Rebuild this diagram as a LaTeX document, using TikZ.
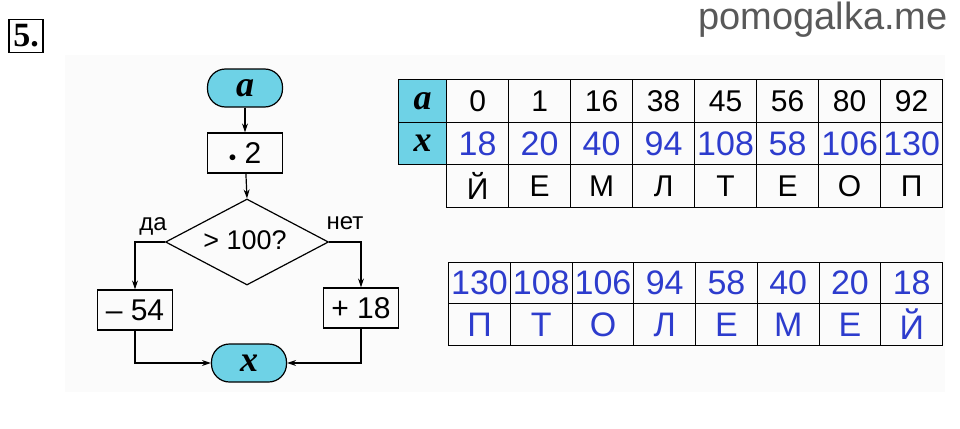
\documentclass[tikz,border=0pt]{standalone}
\usepackage{fontspec}
\setmainfont{Liberation Sans}
\newfontfamily\serifb{Liberation Serif}
\usetikzlibrary{shapes.geometric,arrows.meta}
\definecolor{cy}{RGB}{110,210,230}
\definecolor{bl}{RGB}{45,60,205}
\begin{document}
\begin{tikzpicture}[x=1pt,y=-1pt,
 box/.style={draw,line width=1.2pt,minimum width=75pt,minimum height=40pt,inner sep=0pt,font=\fontsize{30}{32}\selectfont},
 term/.style={draw,line width=1.2pt,fill=cy,rounded corners=18pt,minimum width=75pt,minimum height=38pt,inner sep=0pt,font=\serifb\bfseries\itshape\fontsize{36}{38}\selectfont},
 arr/.style={line width=1.2pt,-{Stealth[length=9pt,width=6pt]}},
 cell/.style={draw,line width=1.2pt,minimum width=62pt,minimum height=42.5pt,inner sep=0pt,anchor=north west,font=\fontsize{30}{32}\selectfont},
 bcell/.style={cell,text=bl,font=\fontsize{34}{36}\selectfont}]
\useasboundingbox (0,0) rectangle (960,428);
\fill[black!1.5] (65,55) rectangle (945,392);
\node[draw,line width=1.5pt,minimum width=34pt,minimum height=33pt,inner sep=0pt,font=\serifb\bfseries\fontsize{34}{36}\selectfont] (n5) at (26,36) {5.};
\node[text=black!65,font=\fontsize{38}{40}\selectfont,anchor=base east,inner sep=0pt] (site) at (948,30) {pomogalka.me};
% flowchart
\node[term] (a) at (245,88) {a};
\node[box] (m2) at (245,153) {\raisebox{2pt}{\scalebox{0.6}{$\bullet$}}\ 2};
\node[draw,line width=1.2pt,diamond,aspect=1.9,minimum width=163pt,minimum height=86pt,inner sep=0pt] (d) at (247,242) {};
\node[font=\fontsize{27}{29}\selectfont] (dt) at (245,240) {> 100?};
\node[box] (b54) at (135,310) {– 54};
\node[box] (b18) at (361,308) {+ 18};
\node[term] (x) at (249,363) {x};
\node[font=\fontsize{24}{26}\selectfont] (da) at (153,226) {да};
\node[font=\fontsize{24}{26}\selectfont] (net) at (345,223) {нет};
\draw[arr] (a) -- (m2);
\draw[arr] (m2) -- (d.north);
\draw[arr] (d.west) -| (b54.north);
\draw[arr] (d.east) -| (b18.north);
\draw[arr] (b54.south) |- (x.west);
\draw[arr] (b18.south) |- (x.east);
% table 1
\node[cell,fill=cy,minimum width=48pt,font=\serifb\bfseries\itshape\fontsize{36}{38}\selectfont] (ha) at (398,79) {a};
\node[cell,fill=cy,minimum width=48pt,font=\serifb\bfseries\itshape\fontsize{36}{38}\selectfont] (hx) at (398,121.5) {x};
\foreach \i/\av/\xv/\l in {0/0/18/Й,1/1/20/Е,2/16/40/М,3/38/94/Л,4/45/108/Т,5/56/58/Е,6/80/106/О,7/92/130/П}{
 \node[cell] (ta\i) at (446+62*\i,79) {\av};
 \node[bcell] (tx\i) at (446+62*\i,121.5) {\xv};
 \node[cell] (tl\i) at (446+62*\i,164) {\l};
}
% table 2
\foreach \i/\xv/\l in {0/130/П,1/108/Т,2/106/О,3/94/Л,4/58/Е,5/40/М,6/20/Е,7/18/Й}{
 \node[bcell,minimum height=41pt,minimum width=61.75pt] (ux\i) at (448+61.75*\i,262) {\xv};
 \node[bcell,minimum height=42pt,minimum width=61.75pt] (ul\i) at (448+61.75*\i,303) {\l};
}
\end{tikzpicture}
\end{document}
